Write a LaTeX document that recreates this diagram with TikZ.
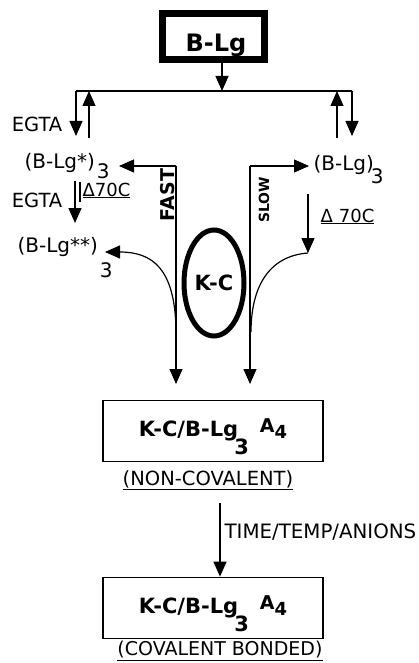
\documentclass[tikz,border=0pt]{standalone}
\usepackage{fontspec}
\setmainfont{DejaVu Sans}
\usetikzlibrary{arrows.meta,shapes.geometric}
\begin{document}
\begin{tikzpicture}[x=1pt,y=-1pt,line width=1.2pt,
  tip/.style={-{Triangle[length=15pt,width=13pt]}},
  lbl/.style={inner sep=0pt,font=\fontsize{19.5}{19.5}\selectfont},
  slbl/.style={inner sep=0pt,font=\fontsize{18}{18}\selectfont},
  blbl/.style={inner sep=0pt,font=\fontsize{20}{20}\selectfont\bfseries},
  sbox/.style={draw,line width=1.8pt,minimum width=220pt,minimum height=61pt,inner sep=0pt,
     text height=24pt,text depth=14pt,font=\fontsize{21}{21}\selectfont\bfseries},
  ulbl/.style={inner sep=0pt,font=\fontsize{19.5}{19.5}\selectfont},
]
\useasboundingbox (0,0) rectangle (419,663);
% top box
\node[draw,line width=7pt,minimum width=102pt,minimum height=46pt,inner sep=0pt] (top) at (213,37) {};
\node[inner sep=0pt,font=\fontsize{24}{24}\selectfont\bfseries] (toplbl) at (216,45) {B-Lg};
\coordinate (j0) at (222,91);
\coordinate (jl) at (76,91);
\coordinate (jr) at (352,91);
\draw[tip] (top.south -| j0) -- (j0);
\draw (jl) -- (jr);
% left pair
\coordinate (ld) at (76,136);
\coordinate (lu1) at (89,138);
\coordinate (lu2) at (89,91);
\draw[tip] (jl) -- (ld);
\draw[tip] (lu1) -- (lu2);
\node[lbl] (egta1) at (37,124) {EGTA};
% right pair
\coordinate (ru1) at (337,138);
\coordinate (ru2) at (337,91);
\coordinate (rd) at (352,136);
\draw[tip] (ru1) -- (ru2);
\draw[tip] (jr) -- (rd);
% species
\node[lbl,anchor=base west,font=\fontsize{20}{20}\selectfont] (bls) at (24,168) {(B-Lg*)\kern2pt\raisebox{-10pt}{3}};
\node[lbl,anchor=base west,font=\fontsize{20}{20}\selectfont] (blss) at (17,252) {(B-Lg**)\kern2pt\raisebox{-25pt}{3}};
\node[lbl,anchor=base west,font=\fontsize{20}{20}\selectfont] (blr) at (313,171) {(B-Lg)\kern-3pt\raisebox{-13pt}{3}};
% left lower
\node[lbl] (egta2) at (37,200) {EGTA};
\coordinate (ld2a) at (75,181);
\coordinate (ld2b) at (75,223);
\draw[tip] (ld2a) -- (ld2b);
\coordinate (lsa) at (80,182);
\coordinate (lsb) at (80,202);
\draw (lsa) -- (lsb);
\node[slbl,anchor=base west] (d70l) at (82,196) {\underline{Δ70C}};
% FAST path
\coordinate (fastTop) at (176,166);
\coordinate (fastBot) at (176,384);
\coordinate (fastCurve) at (176,330);
\coordinate (fastTip) at (119,166);
\draw[tip] (fastTop) -- (fastTip);
\draw[tip] (fastTop) -- (fastBot);
\node[blbl,rotate=90,font=\fontsize{19}{19}\selectfont\bfseries] (fast) at (168,195) {FAST};
\coordinate (t2) at (105,252);
\draw[tip] (fastCurve) .. controls (175,268) and (152,252) .. (t2);
% SLOW path
\coordinate (slowTop) at (250,166);
\coordinate (slowBot) at (250,384);
\coordinate (slowCurve) at (251,332);
\coordinate (slowTip) at (309,166);
\draw[tip] (slowTop) -- (slowTip);
\draw[tip] (slowTop) -- (slowBot);
\node[blbl,rotate=90,font=\fontsize{14}{14}\selectfont\bfseries] (slow) at (264,200) {SLOW};
\coordinate (r70a) at (308,194);
\coordinate (r70b) at (308,253);
\draw[tip] (r70a) -- (r70b);
\draw (r70b) .. controls (268,256) and (251,288) .. (slowCurve);
\node[slbl,anchor=base west] (d70r) at (320,222) {\underline{Δ\kern6pt70C}};
% K-C ellipse
\node[ellipse,draw,line width=5pt,minimum width=60pt,minimum height=106pt,inner sep=0pt,
  font=\fontsize{21}{21}\selectfont\bfseries] (kc) at (214,283) {K-C};
% box 2
\node[sbox] (nc) at (213,431) {K-C/B-Lg\kern-4pt\raisebox{-18pt}{3}\hspace{11pt}\raisebox{4pt}{\fontsize{19}{19}\selectfont A}\raisebox{-2pt}{\fontsize{18}{18}\selectfont 4}};
\node[ulbl] (ncl) at (208,480) {\underline{(NON-COVALENT)}};
% box 3
\node[sbox] (cb) at (213,608) {K-C/B-Lg\kern-4pt\raisebox{-18pt}{3}\hspace{11pt}\raisebox{4pt}{\fontsize{19}{19}\selectfont A}\raisebox{-2pt}{\fontsize{18}{18}\selectfont 4}};
\coordinate (tarr) at (220,503);
\draw[tip] (tarr) -- (tarr |- cb.north);
\node[lbl,anchor=west,font=\fontsize{19.8}{19.8}\selectfont] (ttl) at (224,532) {TIME/TEMP/ANIONS};
\node[ulbl,font=\fontsize{19}{19}\selectfont] (cbl) at (220,651) {\underline{(COVALENT BONDED)}};
\end{tikzpicture}
\end{document}
